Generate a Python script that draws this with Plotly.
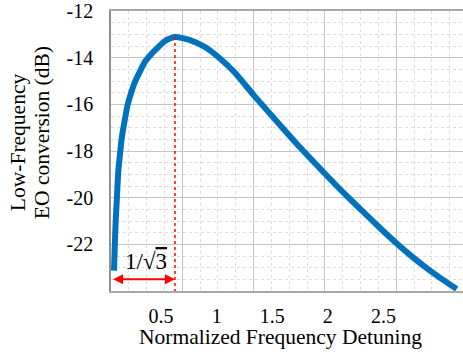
import plotly.graph_objects as go

# Data
detuning = [0.0764, 0.0836, 0.0917, 0.1034, 0.1151, 0.1304, 0.1457, 0.1709, 0.1996, 0.2293,
            0.2653, 0.3103, 0.3552, 0.4047, 0.4604, 0.5351, 0.6250,
            0.7599, 0.8948, 1.0297, 1.1646, 1.3291, 1.5692, 1.7491, 1.9676, 2.1538,
            2.3183, 2.4685, 2.6097, 2.7383, 2.8885, 3.0261, 3.1583]
conversion_db = [-23.13, -22.06, -21.00, -19.93, -18.87, -18.14, -17.45, -16.73, -16.01, -15.52,
                 -15.03, -14.58, -14.17, -13.88, -13.61, -13.28, -13.11,
                 -13.24, -13.54, -14.03, -14.64, -15.58, -16.88, -17.84, -18.94, -19.85,
                 -20.61, -21.30, -21.92, -22.45, -23.02, -23.49, -23.91]
peak_x = 0.625
peak_y = -13.11
x_ticks = [0.5, 1, 1.5, 2, 2.5]
x_ticktext = ["0.5", "1", "1.5", "2", "2.5"]
y_ticks = [-22, -20, -18, -16, -14, -12]
y_ticktext = ["-22", "-20", "-18", "-16", "-14", "-12"]
x_range = [0.0495, 3.2155]
y_range = [-24, -11.995]
arrow_y = -23.5

SERIF = "Liberation Serif, Times New Roman, serif"
BLUE = "#0072BD"
RED = "#FF0000"

fig = go.Figure()

# dummy trace so the grid axis is drawn
fig.add_trace(go.Scatter(x=[None], y=[None], xaxis="x2", yaxis="y",
                         showlegend=False, hoverinfo="skip"))

fig.add_trace(go.Scatter(x=detuning, y=conversion_db, mode="lines",
                         line=dict(color=BLUE, width=6, shape="spline", smoothing=0.6),
                         showlegend=False, hoverinfo="skip"))

fig.add_trace(go.Scatter(x=[peak_x, peak_x], y=[peak_y, y_range[0]], mode="lines",
                         line=dict(color=RED, width=1.5, dash="dot"),
                         showlegend=False, hoverinfo="skip"))

# double arrow
fig.add_annotation(x=peak_x, y=arrow_y, ax=x_range[0] + 0.005, ay=arrow_y,
                   xref="x", yref="y", axref="x", ayref="y",
                   showarrow=True, arrowhead=2, startarrowhead=2, arrowside="end+start",
                   arrowsize=1, startarrowsize=1, arrowwidth=2, arrowcolor=RED,
                   standoff=0, startstandoff=0, text="")

fig.add_annotation(x=0.362, y=-22.75, xref="x", yref="y", showarrow=False,
                   text='1/√<span style="text-decoration:overline">3</span>',
                   font=dict(family=SERIF, size=23, color="black"),
                   xanchor="center", yanchor="middle")

# axis titles
fig.add_annotation(x=0.4815, y=-0.163, xref="paper", yref="paper", showarrow=False,
                   text="Normalized Frequency Detuning",
                   font=dict(family=SERIF, size=21.5, color="black"),
                   xanchor="center", yanchor="middle")
fig.add_annotation(x=-0.264, y=(291 - 141) / 282, xref="paper", yref="paper", showarrow=False,
                   text="Low-Frequency", textangle=-90,
                   font=dict(family=SERIF, size=21.5, color="black"),
                   xanchor="center", yanchor="middle")
fig.add_annotation(x=-0.196, y=(291 - 132) / 282, xref="paper", yref="paper", showarrow=False,
                   text="EO conversion (dB)", textangle=-90,
                   font=dict(family=SERIF, size=21.5, color="black"),
                   xanchor="center", yanchor="middle")

fig.update_layout(
    width=463, height=356,
    margin=dict(l=111, r=0, t=9, b=65),
    paper_bgcolor="white", plot_bgcolor="white",
    xaxis=dict(range=x_range, tickvals=x_ticks, ticktext=x_ticktext,
               showgrid=False, zeroline=False, showline=True, mirror=True,
               linecolor="#a8a8a8", linewidth=1.5, ticks="",
               ticklabelstandoff=6, ticklabeloverflow="allow",
               tickfont=dict(family=SERIF, size=20, color="black")),
    xaxis2=dict(range=[0, 352 / 71.3], overlaying="x", dtick=1, tick0=0,
                showgrid=True, gridcolor="#c4c4c4", gridwidth=1,
                minor=dict(dtick=0.25, showgrid=True, gridcolor="#dcdcdc", griddash="dot", gridwidth=1),
                showticklabels=False, zeroline=False, showline=False, ticks=""),
    yaxis=dict(range=y_range, tickvals=y_ticks, ticktext=y_ticktext,
               showgrid=True, gridcolor="#c4c4c4", gridwidth=1,
               minor=dict(dtick=0.5, tick0=-24, showgrid=True, gridcolor="#dcdcdc", griddash="dot", gridwidth=1),
               zeroline=False, showline=True, linecolor="#909090", linewidth=1.5, ticks="",
               ticklabelstandoff=12, ticklabeloverflow="allow",
               tickfont=dict(family=SERIF, size=20, color="black")),
)

fig.write_html("out.html")
